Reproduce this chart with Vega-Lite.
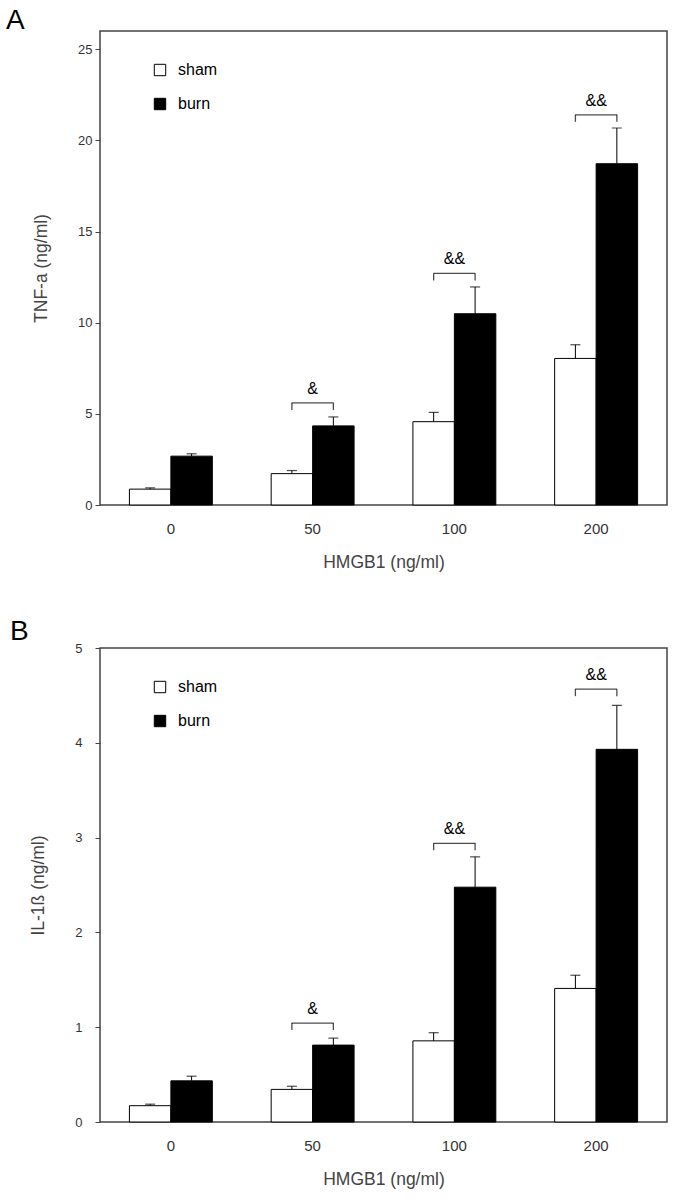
{
  "$schema": "https://vega.github.io/schema/vega-lite/v6.json",
  "padding": {"left": 5, "top": 6, "right": 5, "bottom": 0},
  "background": "white",
  "datasets": {
    "tnf": [
      {"HMGB1": "0", "group": "sham", "mean": 0.87, "upper": 0.94},
      {"HMGB1": "0", "group": "burn", "mean": 2.68, "upper": 2.81},
      {"HMGB1": "50", "group": "sham", "mean": 1.72, "upper": 1.89},
      {"HMGB1": "50", "group": "burn", "mean": 4.34, "upper": 4.83},
      {"HMGB1": "100", "group": "sham", "mean": 4.57, "upper": 5.08},
      {"HMGB1": "100", "group": "burn", "mean": 10.49, "upper": 11.96},
      {"HMGB1": "200", "group": "sham", "mean": 8.04, "upper": 8.79},
      {"HMGB1": "200", "group": "burn", "mean": 18.72, "upper": 20.68}
    ],
    "tnfBr": [
      {"HMGB1": "50", "level": 5.6, "sig": "&"},
      {"HMGB1": "100", "level": 12.7, "sig": "&&"},
      {"HMGB1": "200", "level": 21.4, "sig": "&&"}
    ],
    "il": [
      {"HMGB1": "0", "group": "sham", "mean": 0.172, "upper": 0.188},
      {"HMGB1": "0", "group": "burn", "mean": 0.434, "upper": 0.483},
      {"HMGB1": "50", "group": "sham", "mean": 0.344, "upper": 0.377},
      {"HMGB1": "50", "group": "burn", "mean": 0.811, "upper": 0.885},
      {"HMGB1": "100", "group": "sham", "mean": 0.856, "upper": 0.942},
      {"HMGB1": "100", "group": "burn", "mean": 2.477, "upper": 2.797},
      {"HMGB1": "200", "group": "sham", "mean": 1.409, "upper": 1.548},
      {"HMGB1": "200", "group": "burn", "mean": 3.931, "upper": 4.394}
    ],
    "ilBr": [
      {"HMGB1": "50", "level": 1.044, "sig": "&"},
      {"HMGB1": "100", "level": 2.94, "sig": "&&"},
      {"HMGB1": "200", "level": 4.566, "sig": "&&"}
    ]
  },
  "config": {
    "font": "Liberation Sans",
    "view": {"stroke": "#444", "strokeWidth": 1.5},
    "axis": {
      "grid": false,
      "domain": false,
      "tickColor": "#444",
      "labelColor": "#333",
      "titleColor": "#444",
      "labelFont": "Liberation Sans",
      "titleFont": "Liberation Sans",
      "titleFontWeight": "normal"
    },
    "title": {"font": "Liberation Sans", "color": "#000"},
    "legend": {
      "orient": "none",
      "legendX": 52,
      "legendY": 31,
      "title": null,
      "padding": 0,
      "symbolType": "square",
      "symbolSize": 130,
      "symbolStrokeColor": "#000",
      "symbolStrokeWidth": 1,
      "labelFont": "Liberation Sans",
      "labelFontSize": 16,
      "labelColor": "#000",
      "labelOffset": 10,
      "rowPadding": 18
    }
  },
  "spacing": 45,
  "resolve": {"scale": {"x": "independent", "y": "independent", "xOffset": "independent", "fill": "independent"}, "legend": {"fill": "independent"}},
  "vconcat": [
    {
      "width": 567,
      "height": 474,
      "title": {"text": "A", "anchor": "start", "frame": "group", "fontSize": 28, "fontWeight": "normal", "dx": -94, "offset": -26, "baseline": "alphabetic"},
      "layer": [
        {
          "data": {"name": "tnf"},
          "mark": {"type": "bar", "stroke": "#000", "strokeWidth": 1},
          "encoding": {
            "x": {"field": "HMGB1", "type": "nominal", "sort": ["0", "50", "100", "200"], "scale": {"paddingInner": 0.415, "paddingOuter": 0.2075},
              "axis": {"title": "HMGB1 (ng/ml)", "labelAngle": 0, "ticks": false, "labelPadding": 16, "labelFontSize": 15, "titleFontSize": 17.5, "titlePadding": 17}},
            "xOffset": {"field": "group", "type": "nominal", "sort": ["sham", "burn"], "scale": {"paddingInner": 0, "paddingOuter": 0}},
            "y": {"field": "mean", "type": "quantitative", "scale": {"domain": [0, 25]},
              "axis": {"title": "TNF-a (ng/ml)", "values": [0, 5, 10, 15, 20, 25], "format": "d", "tickSize": 5, "labelPadding": 3, "labelFontSize": 13, "titleFontSize": 17.5, "titlePadding": 27}},
            "fill": {"field": "group", "type": "nominal", "sort": ["sham", "burn"], "scale": {"domain": ["sham", "burn"], "range": ["#ffffff", "#000000"]}}
          }
        },
        {
          "data": {"name": "tnf"},
          "mark": {"type": "rule", "color": "#000", "strokeWidth": 1},
          "encoding": {
            "x": {"field": "HMGB1", "type": "nominal", "sort": ["0", "50", "100", "200"]},
            "xOffset": {"field": "group", "type": "nominal", "sort": ["sham", "burn"]},
            "y": {"field": "mean", "type": "quantitative"},
            "y2": {"field": "upper"}
          }
        },
        {
          "data": {"name": "tnf"},
          "mark": {"type": "tick", "orient": "horizontal", "size": 10, "thickness": 1.2, "color": "#000"},
          "encoding": {
            "x": {"field": "HMGB1", "type": "nominal", "sort": ["0", "50", "100", "200"]},
            "xOffset": {"field": "group", "type": "nominal", "sort": ["sham", "burn"]},
            "y": {"field": "upper", "type": "quantitative"}
          }
        },
        {
          "data": {"name": "tnfBr"},
          "mark": {"type": "tick", "orient": "horizontal", "size": 42, "thickness": 1.3, "color": "#000"},
          "encoding": {
            "x": {"field": "HMGB1", "type": "nominal", "sort": ["0", "50", "100", "200"]},
            "y": {"field": "level", "type": "quantitative"}
          }
        },
        {
          "data": {"name": "tnfBr"},
          "mark": {"type": "tick", "orient": "vertical", "size": 7, "thickness": 1.3, "color": "#000", "yOffset": 3.5},
          "encoding": {
            "x": {"field": "HMGB1", "type": "nominal", "sort": ["0", "50", "100", "200"]},
            "xOffset": {"datum": "sham"},
            "y": {"field": "level", "type": "quantitative"}
          }
        },
        {
          "data": {"name": "tnfBr"},
          "mark": {"type": "tick", "orient": "vertical", "size": 7, "thickness": 1.3, "color": "#000", "yOffset": 3.5},
          "encoding": {
            "x": {"field": "HMGB1", "type": "nominal", "sort": ["0", "50", "100", "200"]},
            "xOffset": {"datum": "burn"},
            "y": {"field": "level", "type": "quantitative"}
          }
        },
        {
          "data": {"name": "tnfBr"},
          "mark": {"type": "text", "fontSize": 16, "baseline": "alphabetic", "dy": -9, "color": "#000"},
          "encoding": {
            "x": {"field": "HMGB1", "type": "nominal", "sort": ["0", "50", "100", "200"]},
            "y": {"field": "level", "type": "quantitative"},
            "text": {"field": "sig"}
          }
        }
      ]
    },
    {
      "width": 567,
      "height": 474,
      "title": {"text": "B", "anchor": "start", "frame": "group", "fontSize": 28, "fontWeight": "normal", "dx": -90, "offset": -26, "baseline": "alphabetic"},
      "layer": [
        {
          "data": {"name": "il"},
          "mark": {"type": "bar", "stroke": "#000", "strokeWidth": 1},
          "encoding": {
            "x": {"field": "HMGB1", "type": "nominal", "sort": ["0", "50", "100", "200"], "scale": {"paddingInner": 0.415, "paddingOuter": 0.2075},
              "axis": {"title": "HMGB1 (ng/ml)", "labelAngle": 0, "ticks": false, "labelPadding": 16, "labelFontSize": 15, "titleFontSize": 17.5, "titlePadding": 17}},
            "xOffset": {"field": "group", "type": "nominal", "sort": ["sham", "burn"], "scale": {"paddingInner": 0, "paddingOuter": 0}},
            "y": {"field": "mean", "type": "quantitative", "scale": {"domain": [0, 5]},
              "axis": {"title": "IL-1ß (ng/ml)", "values": [0, 1, 2, 3, 4, 5], "format": "d", "tickSize": 5, "labelPadding": 13, "labelFontSize": 13, "titleFontSize": 17.5, "titlePadding": 27}},
            "fill": {"field": "group", "type": "nominal", "sort": ["sham", "burn"], "scale": {"domain": ["sham", "burn"], "range": ["#ffffff", "#000000"]}}
          }
        },
        {
          "data": {"name": "il"},
          "mark": {"type": "rule", "color": "#000", "strokeWidth": 1},
          "encoding": {
            "x": {"field": "HMGB1", "type": "nominal", "sort": ["0", "50", "100", "200"]},
            "xOffset": {"field": "group", "type": "nominal", "sort": ["sham", "burn"]},
            "y": {"field": "mean", "type": "quantitative"},
            "y2": {"field": "upper"}
          }
        },
        {
          "data": {"name": "il"},
          "mark": {"type": "tick", "orient": "horizontal", "size": 10, "thickness": 1.2, "color": "#000"},
          "encoding": {
            "x": {"field": "HMGB1", "type": "nominal", "sort": ["0", "50", "100", "200"]},
            "xOffset": {"field": "group", "type": "nominal", "sort": ["sham", "burn"]},
            "y": {"field": "upper", "type": "quantitative"}
          }
        },
        {
          "data": {"name": "ilBr"},
          "mark": {"type": "tick", "orient": "horizontal", "size": 42, "thickness": 1.3, "color": "#000"},
          "encoding": {
            "x": {"field": "HMGB1", "type": "nominal", "sort": ["0", "50", "100", "200"]},
            "y": {"field": "level", "type": "quantitative"}
          }
        },
        {
          "data": {"name": "ilBr"},
          "mark": {"type": "tick", "orient": "vertical", "size": 7, "thickness": 1.3, "color": "#000", "yOffset": 3.5},
          "encoding": {
            "x": {"field": "HMGB1", "type": "nominal", "sort": ["0", "50", "100", "200"]},
            "xOffset": {"datum": "sham"},
            "y": {"field": "level", "type": "quantitative"}
          }
        },
        {
          "data": {"name": "ilBr"},
          "mark": {"type": "tick", "orient": "vertical", "size": 7, "thickness": 1.3, "color": "#000", "yOffset": 3.5},
          "encoding": {
            "x": {"field": "HMGB1", "type": "nominal", "sort": ["0", "50", "100", "200"]},
            "xOffset": {"datum": "burn"},
            "y": {"field": "level", "type": "quantitative"}
          }
        },
        {
          "data": {"name": "ilBr"},
          "mark": {"type": "text", "fontSize": 16, "baseline": "alphabetic", "dy": -9, "color": "#000"},
          "encoding": {
            "x": {"field": "HMGB1", "type": "nominal", "sort": ["0", "50", "100", "200"]},
            "y": {"field": "level", "type": "quantitative"},
            "text": {"field": "sig"}
          }
        }
      ]
    }
  ]
}
